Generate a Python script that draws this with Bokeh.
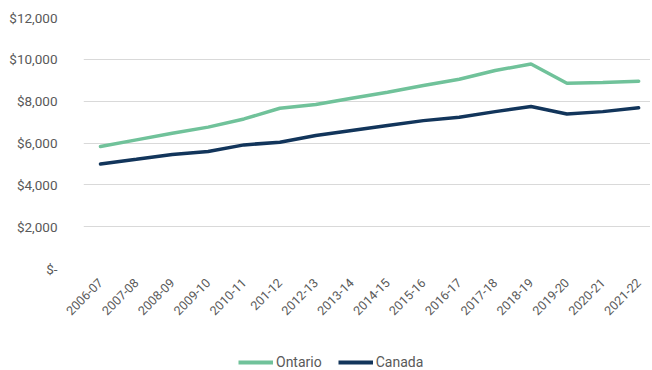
import math
from bokeh.plotting import figure
from bokeh.layouts import column
from bokeh.models import Legend, LegendItem, FixedTicker, Range1d, ColumnDataSource
from bokeh.embed import file_html
from bokeh.resources import INLINE

years = ["2006-07", "2007-08", "2008-09", "2009-10", "2010-11", "201-12", "2012-13",
         "2013-14", "2014-15", "2015-16", "2016-17", "2017-18", "2018-19", "2019-20",
         "2020-21", "2021-22"]
ontario = [5830, 6150, 6470, 6760, 7150, 7660, 7840, 8140, 8430, 8750, 9050, 9465,
           9780, 8860, 8890, 8955]
canada = [5000, 5220, 5450, 5590, 5910, 6040, 6360, 6600, 6840, 7070, 7230, 7500,
          7745, 7390, 7500, 7680]
y_ticks = [0, 2000, 4000, 6000, 8000, 10000, 12000]
y_labels = ["$-", "$2,000", "$4,000", "$6,000", "$8,000", "$10,000", "$12,000"]

ON_COLOR = "#70C29A"
CA_COLOR = "#12355B"

xs = list(range(len(years)))
src = ColumnDataSource(dict(x=xs, ontario=ontario, canada=canada))

p = figure(width=650, height=328, output_backend="svg", toolbar_location=None,
           x_range=Range1d(-0.474, 15.33), y_range=Range1d(0, 12000),
           min_border_left=83, min_border_right=0, min_border_top=17, min_border_bottom=60)
p.outline_line_color = None
p.background_fill_color = "white"
p.border_fill_color = "white"

p.line("x", "ontario", source=src, line_color=ON_COLOR, line_width=3.5, line_cap="round")
p.line("x", "canada", source=src, line_color=CA_COLOR, line_width=3.5, line_cap="round")

p.xgrid.visible = False
p.ygrid.grid_line_color = "#D9D9D9"
p.ygrid.grid_line_width = 1

p.yaxis.ticker = FixedTicker(ticks=y_ticks)
p.yaxis.major_label_overrides = {t: l for t, l in zip(y_ticks, y_labels)}
p.xaxis.ticker = FixedTicker(ticks=xs)
p.xaxis.major_label_overrides = {i: y for i, y in zip(xs, years)}
p.xaxis.major_label_orientation = math.pi / 4

for ax in (p.xaxis, p.yaxis):
    ax.axis_line_color = None
    ax.major_tick_line_color = None
    ax.minor_tick_line_color = None
    ax.major_label_text_font = "Roboto"
    ax.major_label_text_color = "#595959"
p.yaxis.major_label_text_font_size = "13.5px"
p.yaxis.major_label_standoff = 20
p.xaxis.major_label_text_font_size = "12.5px"
p.xaxis.major_label_standoff = 6

# legend strip (its frame is aligned with the main frame by the column layout)
lg = figure(width=650, height=42, output_backend="svg", toolbar_location=None,
            x_range=Range1d(0, 1), y_range=Range1d(0, 1),
            min_border_left=0, min_border_right=0, min_border_top=0, min_border_bottom=0)
lg.axis.visible = False
lg.grid.visible = False
lg.outline_line_color = None
lg.border_fill_color = "white"
d1 = lg.line(x=[5, 6], y=[5, 5], line_color=ON_COLOR, line_width=4)
d2 = lg.line(x=[5, 6], y=[5, 5], line_color=CA_COLOR, line_width=4)

legend = Legend(items=[LegendItem(label="Ontario", renderers=[d1]),
                       LegendItem(label="Canada", renderers=[d2])],
                orientation="horizontal", location=(155, 0),
                label_text_font="Roboto", label_text_font_size="14px",
                label_text_color="#595959", glyph_width=35, glyph_height=14,
                label_standoff=3, spacing=16, padding=0, margin=0,
                border_line_color=None, background_fill_alpha=0)
lg.add_layout(legend, "center")

layout = column(p, lg, spacing=0)
open("out.html", "w").write(file_html(layout, INLINE))
